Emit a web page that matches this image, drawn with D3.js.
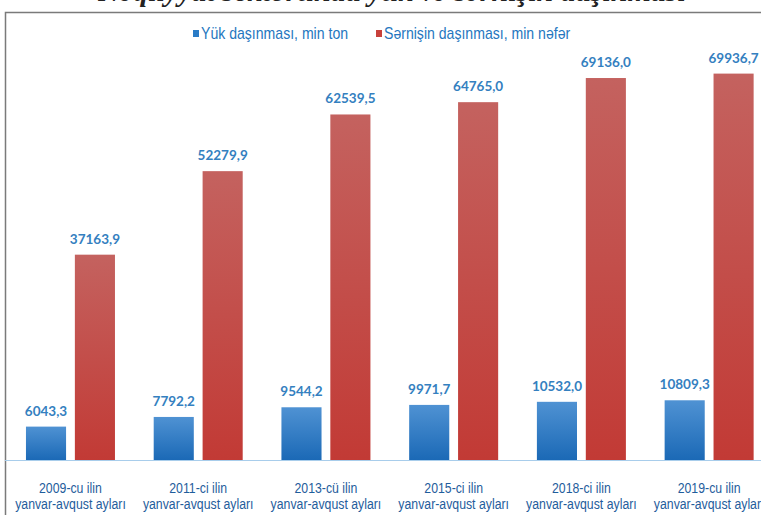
<!DOCTYPE html>
<html>
<head>
<meta charset="utf-8">
<script src="https://cdn.jsdelivr.net/npm/d3@7"></script>
<style>
  html, body { margin: 0; padding: 0; background: #fff; overflow: hidden; }
  svg { display: block; }
</style>
</head>
<body>
<svg id="chart"></svg>
<script>
const W = 761, H = 515;

// data
const years = ["2009-cu ilin", "2011-ci ilin", "2013-cü ilin", "2015-ci ilin", "2018-ci ilin", "2019-cu ilin"];
const period = "yanvar-avqust ayları";
const seriesNames = ["Yük daşınması, min ton", "Sərnişin daşınması, min nəfər"];
const cargo = [6043.3, 7792.2, 9544.2, 9971.7, 10532.0, 10809.3];
const passengers = [37163.9, 52279.9, 62539.5, 64765.0, 69136.0, 69936.7];

const rows = years.map((y, i) => ({ year: y, values: [cargo[i], passengers[i]] }));

const svg = d3.select("#chart").attr("width", W).attr("height", H);

// gradients for the bars
const defs = svg.append("defs");
const grads = [["gBlue", "#4f92d3", "#1b69b6"], ["gRed", "#c4625f", "#c23a35"]];
grads.forEach(([id, top, bottom]) => {
    const g = defs.append("linearGradient").attr("id", id)
        .attr("x1", 0).attr("y1", 0).attr("x2", 0).attr("y2", 1);
    g.append("stop").attr("offset", "0%").attr("stop-color", top);
    g.append("stop").attr("offset", "100%").attr("stop-color", bottom);
});

// title, mostly cut off at the top (as in the source)
svg.append("text")
    .attr("x", 392).attr("y", 0.5)
    .attr("text-anchor", "middle")
    .attr("font-family", "Liberation Serif, serif")
    .attr("font-weight", "bold").attr("font-style", "italic")
    .attr("font-size", 30).attr("fill", "#222")
    .text("Nəqliyyat sektorunda yük və sərnişin daşınması");

// frame
svg.append("path")
    .attr("d", `M5.5,${H} V12.5 H${W}`)
    .attr("fill", "none").attr("stroke", "#7a7a7a").attr("stroke-width", 1.5);

const x0 = d3.scaleBand().domain(years).range([6.6, 773]).padding(0);
const x1 = d3.scaleBand().domain([0, 1]).range([-44.5, 44.5]).paddingInner(0.18);
const y = d3.scaleLinear().domain([0, 80000]).range([460, 18]);

const fmt = v => v.toFixed(1).replace(".", ",");

const groups = svg.selectAll(".grp").data(rows).enter().append("g")
    .attr("class", "grp")
    .attr("transform", d => `translate(${x0(d.year) + x0.bandwidth() / 2},0)`);

groups.selectAll("rect").data(d => d.values).enter().append("rect")
    .attr("x", (d, i) => x1(i))
    .attr("width", x1.bandwidth())
    .attr("y", d => y(d))
    .attr("height", d => y(0) - y(d))
    .attr("fill", (d, i) => i === 0 ? "url(#gBlue)" : "url(#gRed)");

groups.selectAll(".val").data(d => d.values).enter().append("text")
    .attr("class", "val")
    .attr("x", (d, i) => x1(i) + x1.bandwidth() / 2)
    .attr("y", d => y(d) - 11)
    .attr("text-anchor", "middle")
    .attr("font-family", "Lato, sans-serif")
    .attr("font-size", 13.5).attr("font-weight", "bold")
    .attr("fill", "#3480c0")
    .text(fmt);

// baseline
svg.append("line")
    .attr("x1", 5).attr("x2", W)
    .attr("y1", y(0) + 0.5).attr("y2", y(0) + 0.5)
    .attr("stroke", "#a8cdeb").attr("stroke-width", 1);

// category labels (narrow font look via horizontal squeeze)
const cat = groups.append("text")
    .attr("transform", "scale(0.82,1)")
    .attr("text-anchor", "middle")
    .attr("font-family", "Liberation Sans, Arial, sans-serif")
    .attr("font-size", 15)
    .attr("fill", "#1f5d9c");
cat.append("tspan").attr("x", 0).attr("y", 493).text(d => d.year);
cat.append("tspan").attr("x", 0).attr("y", 509).text(period);

// legend
const leg = svg.append("g").attr("transform", "translate(0,34)");
const legX = [193, 376];
const legColors = ["#2a7bc6", "#c8413b"];
seriesNames.forEach((name, i) => {
    leg.append("rect").attr("x", legX[i]).attr("y", -4).attr("width", 6).attr("height", 7)
        .attr("fill", legColors[i]);
    leg.append("text")
        .attr("transform", `translate(${legX[i] + 8},5) scale(0.88,1)`)
        .attr("font-family", "Liberation Sans, Arial, sans-serif")
        .attr("font-size", 16).attr("fill", "#2577c0")
        .text(name);
});
</script>
</body>
</html>
